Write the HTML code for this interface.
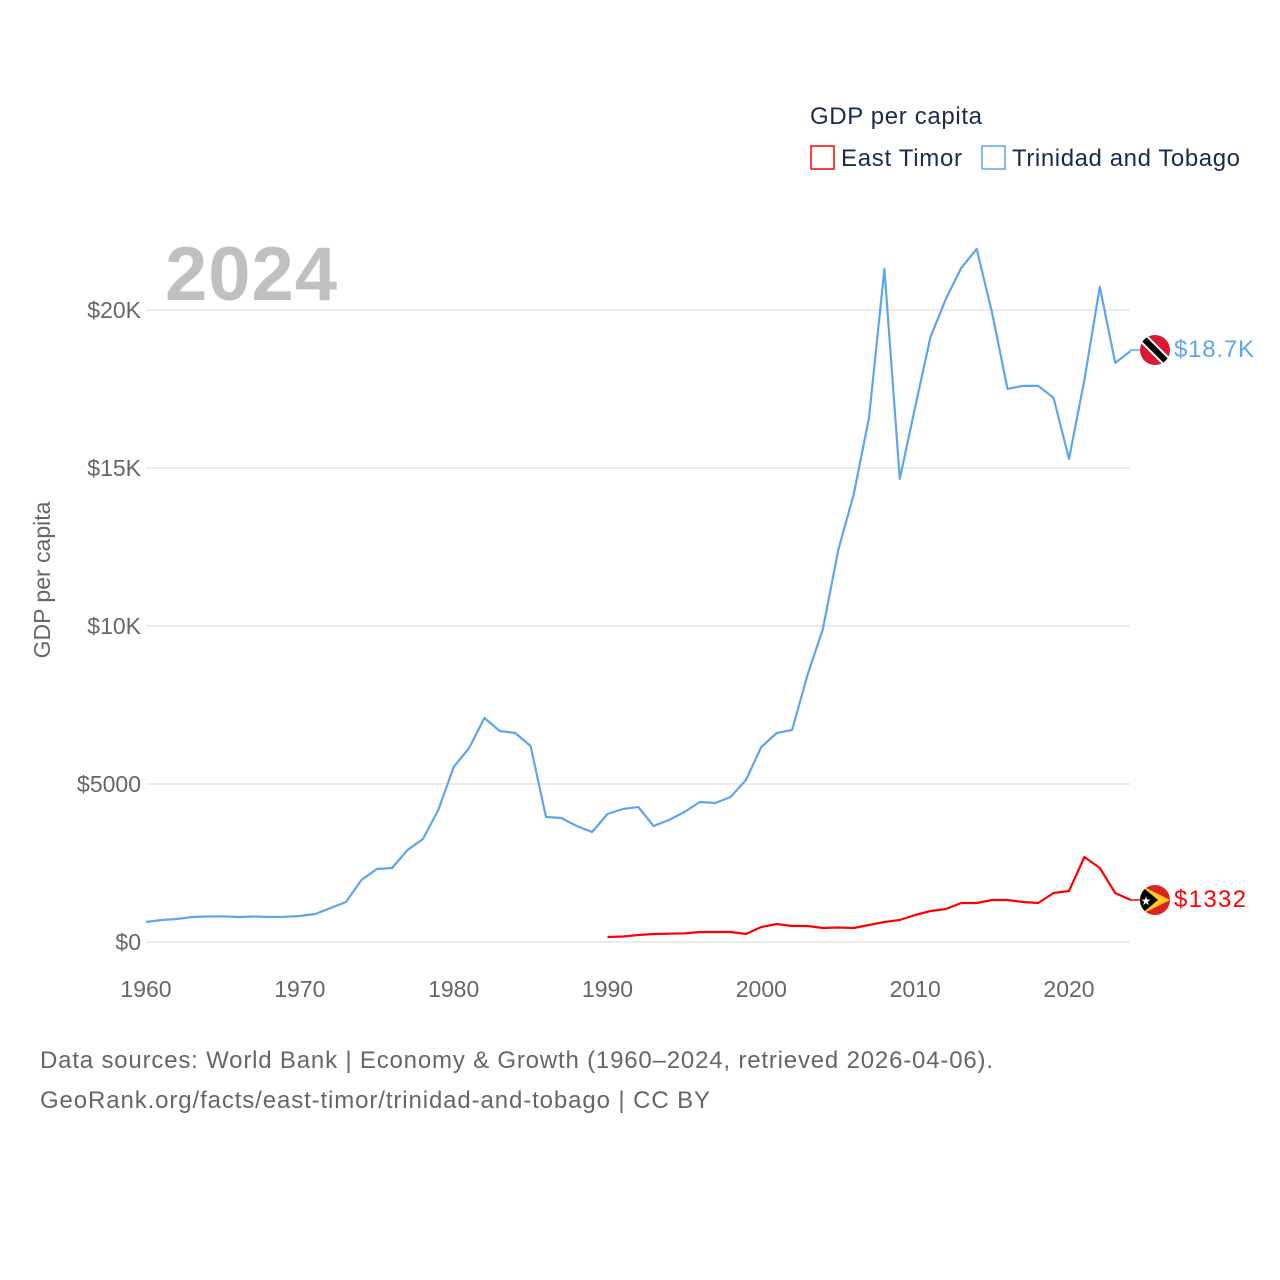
<!DOCTYPE html>
<html><head><meta charset="utf-8"><style>
body{margin:0;background:#fff;}
svg{display:block;font-family:"Liberation Sans",sans-serif;}
</style></head><body>
<svg id="chart" width="1280" height="1280" viewBox="0 0 1280 1280">
<defs>
<clipPath id="c1"><circle cx="1155" cy="350" r="15"/></clipPath>
<clipPath id="c2"><circle cx="1155" cy="900" r="15"/></clipPath>
</defs>
<g id="grid"></g>
<g id="yticks"></g>
<g id="xticks"></g>
<text x="165" y="300" font-size="76" font-weight="bold" fill="#c0c0c0" textLength="172">2024</text>
<text transform="translate(50,580) rotate(-90)" text-anchor="middle" font-size="23" fill="#666">GDP per capita</text>
<g id="series"></g>
<line x1="1130" y1="350" x2="1142" y2="350" stroke="#5ea6ea" stroke-width="1.5"/>
<line x1="1130" y1="900" x2="1142" y2="900" stroke="#ff0000" stroke-width="1.5"/>
<g>
<text x="810" y="124" font-size="24" fill="#1a2b4a" textLength="172">GDP per capita</text>
<g>
<rect x="811" y="146" width="23" height="23" fill="none" stroke="#ff0000" stroke-width="1.5"/>
<text x="841" y="166" font-size="24" fill="#1a2b4a" textLength="121">East Timor</text></g>
<g>
<rect x="982" y="146" width="23" height="23" fill="none" stroke="#5ea6ea" stroke-width="1.5"/>
<text x="1012" y="166" font-size="24" fill="#1a2b4a" textLength="228">Trinidad and Tobago</text></g>
</g>
<g clip-path="url(#c1)">
<rect x="1138" y="333" width="34" height="34" fill="#da1a35"/>
<line x1="1140" y1="335" x2="1170" y2="365" stroke="#fff" stroke-width="10"/>
<line x1="1140" y1="335" x2="1170" y2="365" stroke="#000" stroke-width="6"/>
</g>
<g clip-path="url(#c2)">
<rect x="1138" y="883" width="34" height="34" fill="#dc241f"/>
<polygon points="1140,885 1170,900 1140,915" fill="#ffc726"/>
<polygon points="1140,885 1158,900 1140,915" fill="#000"/>
<text x="1146" y="905" font-size="12" fill="#fff" text-anchor="middle">★</text>
</g>
<text x="1174" y="357" font-size="24" fill="#5ea6ea" textLength="80">$18.7K</text>
<text x="1174" y="907" font-size="24" fill="#ff0000" textLength="72">$1332</text>
<text x="40" y="1068" font-size="24" fill="#666" textLength="953">Data sources: World Bank | Economy &amp; Growth (1960–2024, retrieved 2026-04-06).</text>
<text x="40" y="1108" font-size="24" fill="#666" textLength="670">GeoRank.org/facts/east-timor/trinidad-and-tobago | CC BY</text>
</svg>
<script>
const yTicks=[0,5000,10000,15000,20000];
const yTickLabels=["$0","$5000","$10K","$15K","$20K"];
const xTicks=[1960,1970,1980,1990,2000,2010,2020];
const ttStart=1960;
const ttValues=[633,696,728,791,807,813,791,807,791,798,823,886,1076,1266,1962,2310,2342,2912,3260,4178,5539,6140,7090,6678,6615,6203,3956,3925,3672,3482,4052,4209,4272,3672,3861,4114,4431,4399,4589,5127,6172,6615,6710,8451,9906,12407,14148,16585,21301,14654,16933,19148,20351,21332,21934,19908,17503,17597,17597,17218,15287,17787,20731,18326,18700];
const etStart=1990;
const etValues=[158,174,222,253,263,272,317,317,317,253,475,570,506,506,443,459,443,538,633,696,854,981,1044,1234,1234,1329,1329,1266,1234,1551,1614,2690,2342,1551,1332];
const NS='http://www.w3.org/2000/svg';
const x=yr=>146+(yr-1960)*(923/60);
const y=v=>942-v*632/20000;
function mk(tag,attrs,parent){const e=document.createElementNS(NS,tag);for(const k in attrs)e.setAttribute(k,attrs[k]);parent.appendChild(e);return e;}
const grid=document.getElementById('grid'),yt=document.getElementById('yticks'),xt=document.getElementById('xticks'),ser=document.getElementById('series');
yTicks.forEach((v,i)=>{
 const l=mk('line',{x1:146,x2:1130,y1:y(v),y2:y(v),stroke:'#e6e6e6','stroke-width':1.5},grid);
 
 
 const t=mk('text',{x:141,y:y(v)+8,'text-anchor':'end','font-size':23,fill:'#666'},yt);
 t.textContent=yTickLabels[i];
 
 
});
xTicks.forEach(v=>{
 const t=mk('text',{x:x(v),y:997,'text-anchor':'middle','font-size':23,fill:'#666'},xt);
 t.textContent=v;
 
 
});
function line(vals,start,color,name){
 const d=vals.map((v,i)=>(i?'L':'M')+x(start+i).toFixed(1)+','+y(v).toFixed(1)).join('');
 const p=mk('path',{d:d,fill:'none',stroke:color,'stroke-width':2.2,'stroke-linejoin':'round'},ser);
 
 
}
line(ttValues,ttStart,'#5ea6ea','trinidad-line');
line(etValues,etStart,'#ff0000','east-timor-line');
</script>
</body></html>
